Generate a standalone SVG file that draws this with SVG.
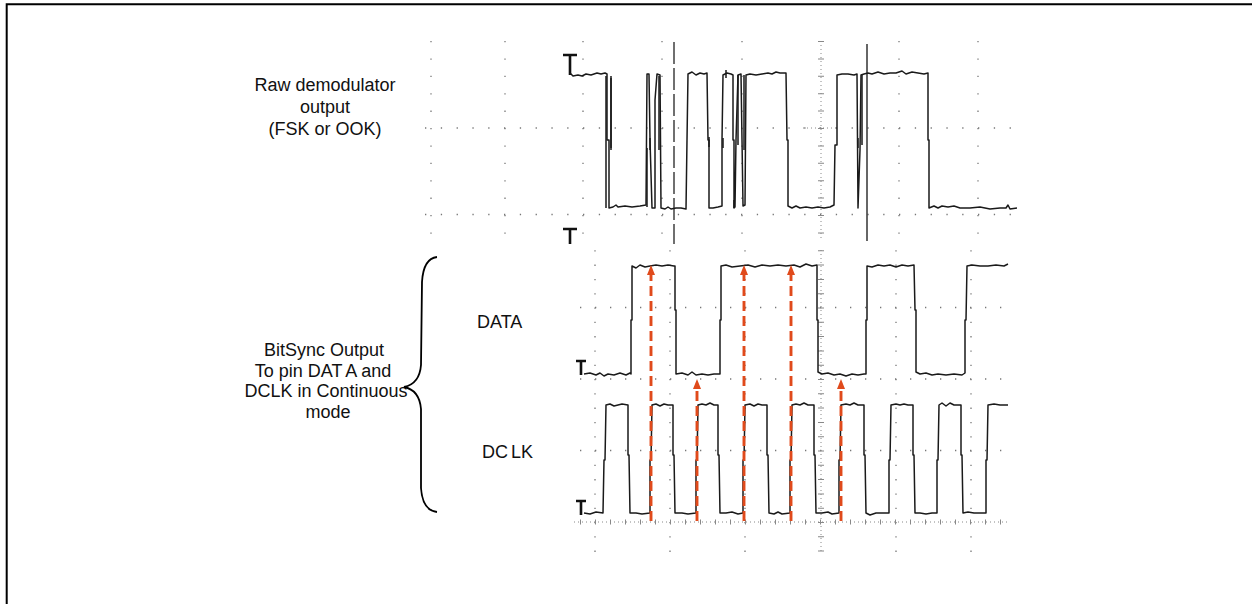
<svg xmlns="http://www.w3.org/2000/svg" width="1252" height="604" viewBox="0 0 1252 604">
<style>
.frame{stroke:#000;stroke-width:2;fill:none}
.lbl{font-family:"Liberation Sans",Arial,sans-serif;font-size:18px;fill:#111}
.vdotT{stroke:#777;stroke-width:1.3;stroke-dasharray:1.3 16.1;fill:none}
.hdotT{stroke:#777;stroke-width:1.3;stroke-dasharray:1.3 14.5;fill:none}
.vdotB{stroke:#777;stroke-width:1.3;stroke-dasharray:1.3 13;fill:none}
.hdotB{stroke:#777;stroke-width:1.3;stroke-dasharray:1.3 13.7;fill:none}
.dense{stroke:#888;stroke-width:1;stroke-dasharray:1 3;fill:none}
.ticks{stroke:#888;fill:none}
.trace{stroke:#1a1a1a;stroke-width:1.5;fill:none;stroke-linejoin:round}
.mark{stroke:#111;stroke-width:2.6;fill:none}
.arrow{stroke:#E04A1B;stroke-width:2.9;stroke-dasharray:10 5;fill:none}
.brace{stroke:#000;stroke-width:1.8;fill:none}
</style>
<defs>
<marker id="ah" markerUnits="userSpaceOnUse" markerWidth="10" markerHeight="8" viewBox="0 0 10 8" refX="0" refY="4" orient="auto">
<path d="M0,0 L10,4 L0,8 Z" fill="#E04A1B"/>
</marker>
</defs>

<g id="frame">
<path class="frame" d="M6.7,604 L6.7,4.3 L1252,4.3"/>
</g>

<g id="grid-top">
<path class="vdotT" d="M431,41 V240 M505,41 V240 M583,41 V240 M662,41 V240 M742,41 V240 M899,41 V240 M978,41 V240"/>
<path class="hdotT" d="M425,128 H1017 M425,214.5 H1017"/>
<path class="dense" d="M821,41 V240 M803,128 H836"/>
<path class="ticks" stroke-width="6" stroke-dasharray="1 16.4" d="M821,41 V240"/>
<path stroke="#333" stroke-width="1.4" stroke-dasharray="22 4" fill="none" d="M674,42 V244"/>
<path stroke="#333" stroke-width="1.5" fill="none" d="M867,44 V241"/>
</g>

<g id="grid-bottom">
<path class="vdotB" d="M595,250.3 V553 M670,250.3 V553 M745,250.3 V553 M896,250.3 V553 M971,250.3 V553"/>
<path class="hdotB" d="M580,307.5 H1008 M580,379 H1008 M580,450.5 H1008"/>
<path class="dense" stroke-dasharray="1 2" d="M574,522 H1008"/>
<path class="ticks" stroke-width="5" stroke-dasharray="1 14" d="M580,522 H1008"/>
<path class="dense" stroke-dasharray="1 2.575" d="M821,250 V553"/>
<path class="ticks" stroke-width="6" stroke-dasharray="1 13.3" d="M821,250.3 V553"/>
</g>

<g id="raw-waveform">
<path class="mark" d="M563,55 H577 M570,55 V75 M563,229 H577 M570,229 V244"/>
<path class="trace" d="M570,73 L573,76 L578,75 L582,76 L586,74 L591,75 L597,73 L601,74 L605,73 L607,74 L607,140 L609,140 L609,208 L613,207 L616,205 L618,207 L625,206 L632,207 L640,206 L646,205 L647,74 L649,74 L650,140 L652,208 L655,208 L655,100 L657,74 L660,75 L661,208 L665,209 L668,207 L671,209 L676,208 L681,208 L686,209 L687,140 L688,74 L692,72 L696,75 L700,73 L704,74 L707,73 L708,140 L709,140 L709,208 L713,208 L718,207 L722,206 L722,140 L723,75 L727,73 L731,74 L733,75 L733,140 L734,140 L734,208 L735,207 L736,140 L738,75 L741,74 L742,140 L743,206 L745,205 L746,75 L750,74 L756,75 L762,74 L768,73 L772,74 L776,72 L780,73 L786,73 L787,140 L788,140 L788,206 L792,208 L796,206 L800,208 L806,207 L812,208 L818,207 L824,208 L830,207 L834,205 L835,145 L837,145 L837,75 L842,74 L848,74 L854,75 L857,74 L858,208 L860,150 L861,75 L864,74 L868,73 L872,74 L878,72 L884,74 L890,73 L896,73 L902,71 L906,74 L912,72 L918,73 L924,74 L928,73 L928,140 L929,140 L929,208 L934,206 L938,208 L942,206 L948,207 L954,206 L960,208 L970,208 L980,207 L990,209 L1000,208 L1006,208 L1008,205 L1010,209 L1017,208"/>
<path class="trace" stroke-width="1.2" d="M606,76 V208 M611,76 V150 M647,148 V207 M659,76 V150 M726,70 V78 M738,75 V145 M744,75 V150 M862,75 V145"/>
<path class="trace" stroke-width="2.6" d="M611,78 V148 M650,138 V150 M709,137 V147 M723,138 V148 M734,200 V208 M858,138 V148"/>
</g>

<g id="data-waveform">
<path class="mark" d="M576,361 H586 M581,361 V375"/>
<path class="trace" d="M584,374 L590,373 L596,375 L600,373 L604,376 L608,374 L614,375 L620,373 L626,375 L630,373 L631,374 L631,320 L632,320 L632,266 L636,268 L640,265 L645,267 L650,266 L656,265 L662,266 L668,265 L674,266 L675,266 L675,310 L676,310 L676,374 L682,373 L688,375 L692,372 L696,375 L702,374 L708,375 L714,374 L720,374 L720,320 L721,320 L721,266 L726,265 L732,267 L740,266 L748,265 L755,267 L762,265 L770,266 L778,265 L786,266 L794,265 L800,267 L806,264 L812,266 L817,265 L817,320 L818,320 L818,372 L822,374 L828,373 L834,375 L840,374 L846,376 L852,374 L858,375 L864,374 L866,374 L866,320 L867,320 L867,266 L872,267 L878,265 L884,266 L890,265 L896,267 L902,265 L908,266 L914,265 L915,310 L916,310 L916,372 L920,374 L926,373 L932,375 L938,374 L946,375 L954,374 L962,375 L965,373 L965,320 L966,320 L967,266 L972,265 L980,266 L988,266 L996,265 L1004,266 L1008,264"/>
</g>

<g id="dclk-waveform">
<path class="mark" d="M576,501 H586 M581,501 V515"/>
<path class="trace" d="M584,513 L590,514 L596,512 L603,513 L604,460 L605,460 L606,405 L610,404 L614,406 L618,405 L622,404 L628,405 L628,455 L629,455 L630,513 L636,513 L642,514 L650,513 L650,460 L651,460 L652,405 L656,404 L660,406 L664,404 L668,405 L673,405 L673,455 L674,455 L675,513 L682,513 L688,514 L696,513 L696,460 L697,460 L698,405 L702,404 L706,405 L710,403 L714,405 L718,405 L718,455 L719,455 L720,513 L726,513 L732,512 L738,514 L743,513 L743,460 L744,460 L745,405 L750,404 L754,406 L758,404 L762,405 L767,405 L767,455 L768,455 L769,513 L774,514 L778,512 L782,514 L790,513 L790,460 L791,460 L792,405 L796,404 L800,405 L804,403 L808,405 L814,405 L814,455 L815,455 L816,513 L822,513 L828,512 L832,514 L839,513 L839,460 L840,460 L841,405 L846,404 L850,405 L854,403 L858,405 L864,405 L864,455 L865,455 L866,513 L870,515 L876,513 L882,513 L889,513 L889,460 L890,460 L891,405 L896,404 L900,405 L904,404 L908,405 L913,405 L913,455 L914,455 L915,513 L920,513 L926,514 L932,513 L937,513 L937,460 L938,460 L939,405 L942,403 L946,406 L950,403 L954,405 L961,405 L961,455 L962,455 L963,513 L968,512 L974,513 L980,513 L986,513 L986,460 L987,460 L988,405 L994,404 L1000,405 L1008,405"/>
</g>

<g id="connectors">
<line class="arrow" x1="651" y1="521" x2="651" y2="275" marker-end="url(#ah)"/>
<line class="arrow" x1="697" y1="521" x2="697" y2="389" marker-end="url(#ah)"/>
<line class="arrow" x1="744" y1="521" x2="744" y2="275" marker-end="url(#ah)"/>
<line class="arrow" x1="791" y1="521" x2="791" y2="275" marker-end="url(#ah)"/>
<line class="arrow" x1="841" y1="521" x2="841" y2="389" marker-end="url(#ah)"/>
</g>

<g id="raw-label">
<text class="lbl" text-anchor="middle" x="325" y="91">Raw demodulator</text>
<text class="lbl" text-anchor="middle" x="325" y="113">output</text>
<text class="lbl" text-anchor="middle" x="325" y="135">(FSK or OOK)</text>
</g>

<g id="bitsync-label">
<text class="lbl" text-anchor="middle" x="324" y="356">BitSync Output</text>
<text class="lbl" text-anchor="middle" x="323" y="377">To pin DAT<tspan dx="4">A</tspan> and</text>
<text class="lbl" text-anchor="middle" x="326" y="397">DCLK in Continuous</text>
<text class="lbl" text-anchor="middle" x="328" y="418">mode</text>
<path class="brace" d="M437,257 C428,258 423,265 422,282 L421,365 C420,378 414,385 404,387 C414,389 420,397 421,409 L421,488 C422,503 428,511 437,512"/>
</g>

<g id="data-label">
<text class="lbl" x="477" y="328">DATA</text>
</g>

<g id="dclk-label">
<text class="lbl" x="482" y="458">DC<tspan dx="3">LK</tspan></text>
</g>
</svg>
